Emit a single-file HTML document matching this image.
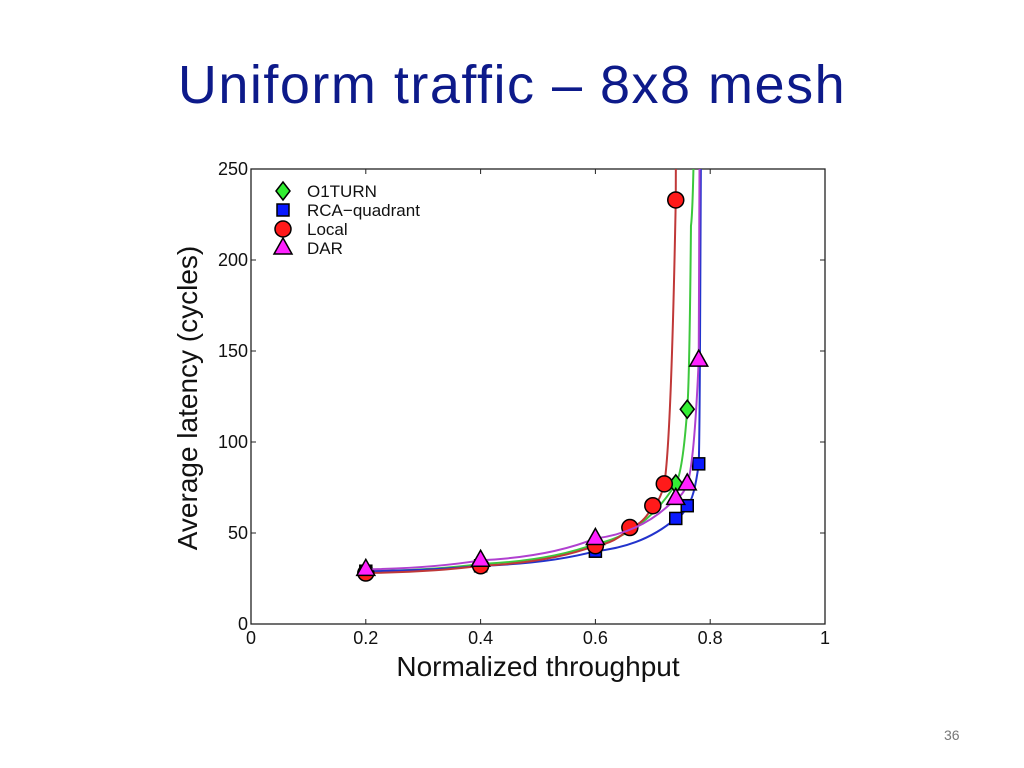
<!DOCTYPE html>
<html><head><meta charset="utf-8"><style>
html,body{margin:0;padding:0;background:#fff;width:1024px;height:768px;overflow:hidden;font-family:"Liberation Sans",sans-serif}
#title{position:absolute;left:0;width:1024px;top:54px;text-align:center;font-size:54px;letter-spacing:1.5px;color:#0d1a8a;font-family:"Liberation Sans",sans-serif}
#pnum{position:absolute;left:944px;top:727px;font-size:14px;color:#777}
svg{position:absolute;left:0;top:0}
</style></head><body>
<div id="title">Uniform traffic – 8x8 mesh</div>
<div id="pnum">36</div>
<svg id="chart" width="1024" height="768"></svg>
<script>
const xTicks=[0,0.2,0.4,0.6,0.8,1];
const xTickLabels=["0","0.2","0.4","0.6","0.8","1"];
const yTicks=[0,50,100,150,200,250];
const yTickLabels=["0","50","100","150","200","250"];
const seriesNames=["O1TURN","RCA\u2212quadrant","Local","DAR"];
const o1turnX=[0.2,0.4,0.6,0.74,0.76];
const o1turnY=[29,33,44,77,118];
const rcaX=[0.2,0.4,0.6,0.74,0.76,0.78];
const rcaY=[29,32,40,58,65,88];
const localX=[0.2,0.4,0.6,0.66,0.7,0.72,0.74];
const localY=[28,32,43,53,65,77,233];
const darX=[0.2,0.4,0.6,0.74,0.76,0.78];
const darY=[30,35,47,69,77,145];
const saturation=[0.772,0.784,0.742,0.782];

const L=251,R=825,T=169,B=624;
const sx=v=>L+v*(R-L);
const sy=v=>B-v/250*(B-T);
const svg=document.getElementById('chart');
const NS='http://www.w3.org/2000/svg';
function mk(tag,attrs,parent){const e=document.createElementNS(NS,tag);for(const k in attrs)e.setAttribute(k,attrs[k]);(parent||svg).appendChild(e);return e;}

const clip=mk('clipPath',{id:'pc'});mk('rect',{x:L,y:T,width:R-L,height:B-T},clip);
const frame=mk('rect',{x:L,y:T,width:R-L,height:B-T,fill:'#fff',stroke:'#222','stroke-width':1.3});



xTicks.forEach((t,i)=>{
  mk('line',{x1:sx(t),x2:sx(t),y1:B,y2:B-5,stroke:'#222'});
  mk('line',{x1:sx(t),x2:sx(t),y1:T,y2:T+5,stroke:'#222'});
  const tx=mk('text',{x:sx(t),y:B+20,'text-anchor':'middle','font-size':18,fill:'#111'});
  tx.textContent=xTickLabels[i];
  
  
});
yTicks.forEach((t,i)=>{
  mk('line',{x1:L,x2:L+5,y1:sy(t),y2:sy(t),stroke:'#222'});
  mk('line',{x1:R,x2:R-5,y1:sy(t),y2:sy(t),stroke:'#222'});
  const tx=mk('text',{x:L-3,y:sy(t)+6,'text-anchor':'end','font-size':18,fill:'#111'});
  tx.textContent=yTickLabels[i];
  
  
});
const xt=mk('text',{x:538,y:676,'text-anchor':'middle','font-size':28,fill:'#111'});
xt.textContent='Normalized throughput';


const yt=mk('text',{x:0,y:0,'text-anchor':'middle','font-size':28,fill:'#111',transform:'translate(197,398) rotate(-90)'});
yt.textContent='Average latency (cycles)';



const series=[
 {x:o1turnX,y:o1turnY,line:'#3cc83c',fill:'#33ee33',m:'diamond'},
 {x:rcaX,y:rcaY,line:'#2233cc',fill:'#0a1aff',m:'square'},
 {x:localX,y:localY,line:'#c03838',fill:'#ff1a1a',m:'circle'},
 {x:darX,y:darY,line:'#b040d0',fill:'#ff22ff',m:'triangle'}];

function marker(type,cx,cy,fill,parent){
  const s={stroke:'#000','stroke-width':1.5,fill:fill};
  let e;
  if(type==='diamond')e=mk('polygon',Object.assign({points:`${cx},${cy-9} ${cx+7},${cy} ${cx},${cy+9} ${cx-7},${cy}`},s),parent);
  else if(type==='square')e=mk('rect',Object.assign({x:cx-6,y:cy-6,width:12,height:12},s),parent);
  else if(type==='circle')e=mk('circle',Object.assign({cx:cx,cy:cy,r:8},s),parent);
  else e=mk('polygon',Object.assign({points:`${cx},${cy-10} ${cx+9},${cy+6} ${cx-9},${cy+6}`},s),parent);
  return e;
}
series.forEach((se,si)=>{
  const g=mk('g',{'clip-path':'url(#pc)'});
  
  
  const pts=se.x.map((v,i)=>[sx(v),sy(se.y[i])]);
  const last=se.x[se.x.length-1];
  pts.push([sx((last+saturation[si])/2+0.0005),sy(se.y[se.y.length-1]*1.6+30)]);
  pts.push([sx(saturation[si]),sy(270)]);
  let d='M'+pts[0][0]+','+pts[0][1];
  for(let i=1;i<pts.length;i++){
    const p0=pts[i-1],p1=pts[i];
    const mx=p0[0]+(p1[0]-p0[0])*0.6;
    d+=` Q${mx},${p0[1]+(p1[1]-p0[1])*0.15} ${p1[0]},${p1[1]}`;
  }
  const ln=mk('path',{d:d,fill:'none',stroke:se.line,'stroke-width':2},g);
  
  
  se.x.forEach((v,i)=>{
    const m=marker(se.m,sx(v),sy(se.y[i]),se.fill,g);
    
    
  });
});
const lg=mk('g',{});


series.forEach((se,i)=>{
  const y=191+i*19;
  const m=marker(se.m,283,y,se.fill,lg);
  
  
  const t=mk('text',{x:307,y:y+6,'font-size':17,fill:'#111'},lg);
  t.textContent=seriesNames[i];
  
  
});
</script>
</body></html>
